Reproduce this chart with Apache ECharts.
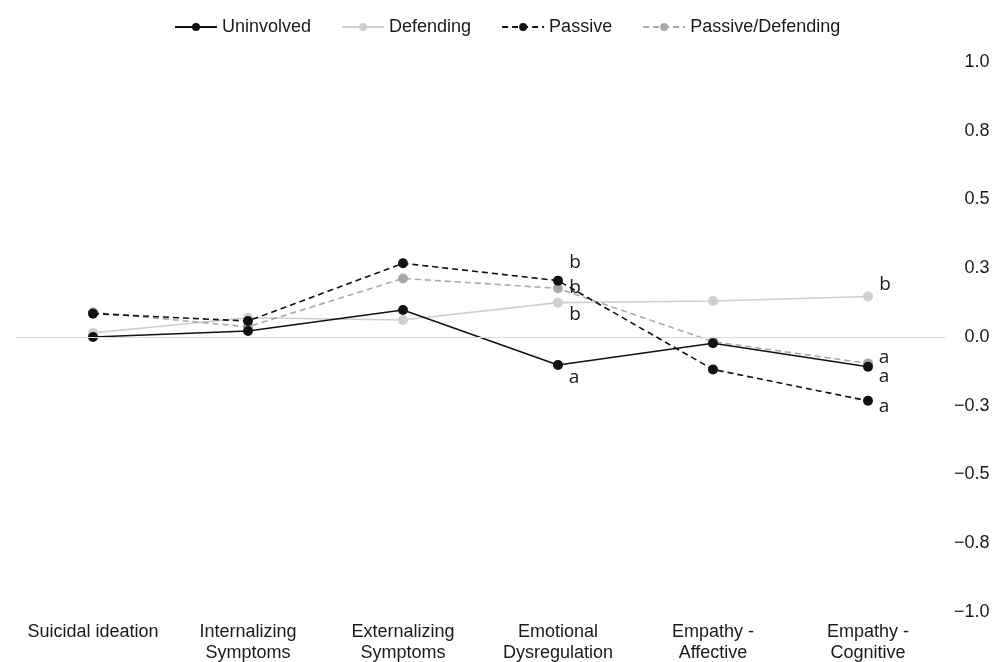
<!DOCTYPE html>
<html lang="en">
<head>
    <meta charset="UTF-8">
    <title>Group profiles</title>
    <script src="https://cdn.jsdelivr.net/npm/echarts@6/dist/echarts.min.js"></script>
    <style>
        html, body { margin: 0; padding: 0; background: #fff; }
        #chart { width: 1006px; height: 662px; }
    </style>
</head>
<body>
<div id="chart"></div>
<script>
    // data --------------------------
    var categories = ['Suicidal ideation', 'Internalizing\nSymptoms', 'Externalizing\nSymptoms',
        'Emotional\nDysregulation', 'Empathy -\nAffective', 'Empathy -\nCognitive'];
    var uninvolved = [0.00, 0.022, 0.098, -0.102, -0.023, -0.108];
    var defending = [0.015, 0.07, 0.062, 0.125, 0.131, 0.147];
    var passive = [0.085, 0.058, 0.268, 0.205, -0.118, -0.232];
    var passiveDefending = [0.09, 0.037, 0.213, 0.177, -0.017, -0.096];
    // significance letters
    var uninvolvedSig = ['', '', '', 'a', '', 'a'];
    var defendingSig = ['', '', '', 'b', '', 'b'];
    var passiveSig = ['', '', '', 'b', '', 'a'];
    var passiveDefendingSig = ['', '', '', 'b', '', 'a'];

    var font = 'Liberation Sans, Arial, sans-serif';

    // where each letter sits next to its point
    function withLetters(values, letters, offsets) {
        return values.map(function (v, i) {
            if (!letters[i]) return v;
            return {
                value: v,
                label: {
                    show: true,
                    position: 'inside',
                    formatter: letters[i],
                    offset: offsets[i],
                    color: '#1a1a1a',
                    fontSize: 19,
                    fontFamily: 'Open Sans, sans-serif'
                }
            };
        });
    }

    function makeSeries(name, values, letters, offsets, color, type, z) {
        return {
            name: name,
            type: 'line',
            data: withLetters(values, letters, offsets),
            symbol: 'circle',
            symbolSize: 10,
            z: z,
            itemStyle: { color: color },
            lineStyle: { color: color, width: 1.6, type: type },
            emphasis: { disabled: true }
        };
    }

    var chart = echarts.init(document.getElementById('chart'));
    var option = {
        animation: false,
        legend: {
            top: 13,
            left: 169,
            itemWidth: 42,
            itemHeight: 10,
            itemGap: 30,
            textStyle: { color: '#1a1a1a', fontSize: 18, fontFamily: font },
            data: ['Uninvolved', 'Defending', 'Passive', 'Passive/Defending']
        },
        grid: {
            left: 15.5, right: 60.5, top: 62, bottom: 50,
            containLabel: false,
            outerBoundsMode: 'none'
        },
        xAxis: {
            type: 'category',
            data: categories,
            axisLine: { show: false, onZero: false },
            axisTick: { show: false },
            splitLine: { show: false },
            axisLabel: {
                margin: 10,
                color: '#1a1a1a',
                fontSize: 18,
                lineHeight: 21,
                fontFamily: font,
                interval: 0
            }
        },
        yAxis: {
            type: 'value',
            position: 'right',
            min: -1,
            max: 1,
            interval: 0.25,
            axisLine: { show: false },
            axisTick: { show: false },
            splitLine: { show: false },
            axisLabel: {
                margin: 44,
                align: 'right',
                color: '#1a1a1a',
                fontSize: 18,
                fontFamily: font,
                formatter: function (v) {
                    var s = v.toFixed(1);
                    return s.replace('-', '\u2212');
                }
            }
        },
        series: [
            {
                name: 'zero',
                type: 'line',
                data: [],
                silent: true,
                markLine: {
                    silent: true,
                    symbol: 'none',
                    label: { show: false },
                    lineStyle: { color: '#dcdcdc', width: 1.2, type: 'solid' },
                    data: [{ yAxis: 0 }]
                }
            },
            makeSeries('Defending', defending, defendingSig,
                [null, null, null, [17, 12], null, [17, -12]], '#cfcfcf', 'solid', 2),
            makeSeries('Passive/Defending', passiveDefending, passiveDefendingSig,
                [null, null, null, [17, -1], null, [16, -6]], '#a9a9a9', [6, 4], 3),
            makeSeries('Uninvolved', uninvolved, uninvolvedSig,
                [null, null, null, [16, 13], null, [16, 10]], '#111111', 'solid', 4),
            makeSeries('Passive', passive, passiveSig,
                [null, null, null, [17, -18], null, [16, 6]], '#111111', [6, 4], 5)
        ]
    };
    chart.setOption(option);
</script>
</body>
</html>
